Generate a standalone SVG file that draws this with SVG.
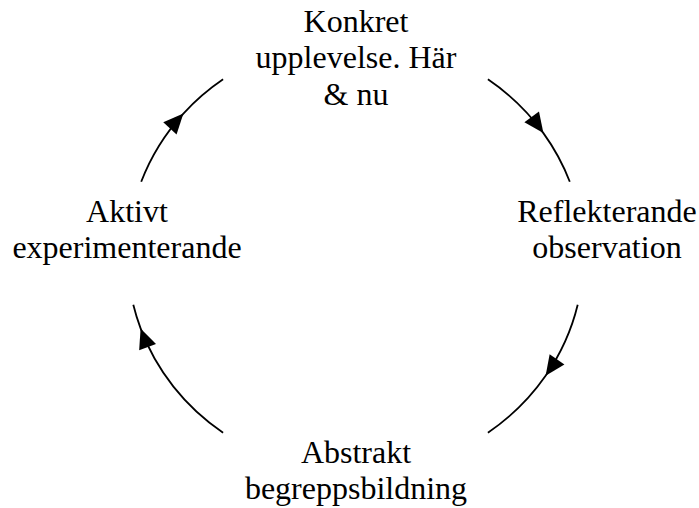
<svg xmlns="http://www.w3.org/2000/svg" width="699" height="508" viewBox="0 0 699 508">
<style>
.lbl{font-family:"Liberation Serif","Times New Roman",serif;font-size:32px;fill:#000;text-anchor:middle}
.arc{fill:none;stroke:#000;stroke-width:1.8;marker-mid:url(#ah)}
</style>
<defs>
<marker id="ah" viewBox="-21 -10 22 20" markerWidth="22" markerHeight="20" refX="0" refY="0" orient="auto" markerUnits="userSpaceOnUse">
<path d="M0,0 L-20,-9 L-20,9 Z" fill="#000"/>
</marker>
</defs>
<rect width="699" height="508" fill="#fff"/>
<g id="connectors">
<path class="arc" d="M141.2,181.8 A228,217 0 0 1 183.4,113.6 A228,217 0 0 1 223.1,79.3"/>
<path class="arc" d="M487.9,79.3 A228,217 0 0 1 543.4,133.1 A228,217 0 0 1 569.8,181.8"/>
<path class="arc" d="M577.7,304.8 A228,217 0 0 1 545.6,375.8 A228,217 0 0 1 487.9,432.7"/>
<path class="arc" d="M223.1,432.7 A228,217 0 0 1 140.6,328.4 A228,217 0 0 1 133.3,304.8"/>
</g>
<g id="konkret">
<text class="lbl" x="356" y="32">Konkret</text>
<text class="lbl" x="356" y="68">upplevelse. Här</text>
<text class="lbl" x="356" y="105">&amp; nu</text>
</g>
<g id="reflekterande">
<text class="lbl" x="607" y="222">Reflekterande</text>
<text class="lbl" x="607" y="258">observation</text>
</g>
<g id="abstrakt">
<text class="lbl" x="356" y="463">Abstrakt</text>
<text class="lbl" x="356" y="499">begreppsbildning</text>
</g>
<g id="aktivt">
<text class="lbl" x="127" y="222">Aktivt</text>
<text class="lbl" x="127" y="258">experimenterande</text>
</g>
</svg>
